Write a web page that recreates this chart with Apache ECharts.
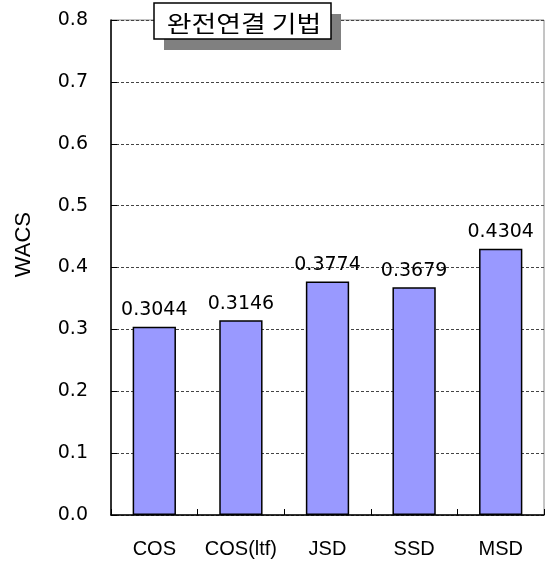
<!DOCTYPE html>
<html>
<head>
<meta charset="utf-8">
<script src="https://cdn.jsdelivr.net/npm/echarts@6/dist/echarts.min.js"></script>
<style>
  html, body { margin: 0; padding: 0; background: #ffffff; }
  #chart { width: 545px; height: 562px; }
</style>
</head>
<body>
<div id="chart"></div>
<script>
// Clustering measures compared under complete linkage
const categories = ['COS', 'COS(ltf)', 'JSD', 'SSD', 'MSD'];
const wacsValues = [0.3044, 0.3146, 0.3774, 0.3679, 0.4304];
const titleText = '완전연결 기법';
const axisName = 'WACS';

const numFont = 'DejaVu Sans';
const chart = echarts.init(document.getElementById('chart'), null, { renderer: 'canvas' });

chart.setOption({
  animation: false,
  backgroundColor: '#ffffff',
  grid: {
    left: 111, right: 1, top: 20, bottom: 47,
    show: true, borderColor: '#8a8a8a', borderWidth: 1, backgroundColor: 'transparent'
  },
  xAxis: {
    type: 'category',
    data: categories,
    axisLine: { lineStyle: { color: '#000', width: 1.5 } },
    axisTick: { show: true, inside: true, length: 6, lineStyle: { color: '#000' } },
    axisLabel: { interval: 0, margin: 24, color: '#000', fontFamily: 'Liberation Sans', fontSize: 20 },
    splitLine: { show: false }
  },
  yAxis: {
    type: 'value',
    min: 0, max: 0.8, interval: 0.1,
    axisLine: { show: true, lineStyle: { color: '#000', width: 1.5 } },
    axisTick: { show: true, inside: true, length: 6, lineStyle: { color: '#000' } },
    axisLabel: {
      margin: 23, color: '#000', fontFamily: numFont, fontSize: 19,
      formatter: v => v.toFixed(1)
    },
    splitLine: { show: true, lineStyle: { color: '#444', width: 1, type: [3, 2] } }
  },
  series: [{
    type: 'bar',
    data: wacsValues,
    barWidth: '50%',
    itemStyle: { color: '#9999ff', borderColor: '#000', borderWidth: 1.5 },
    label: {
      show: true, position: 'top', distance: 7,
      color: '#000', fontFamily: numFont, fontSize: 19,
      formatter: p => p.value.toFixed(4)
    }
  }],
  graphic: [
    {
      type: 'text', left: 13, top: 212, rotation: Math.PI / 2,
      style: { text: axisName, fontFamily: 'Liberation Sans', fontSize: 22, fill: '#000' }
    },
    {
      type: 'rect', shape: { x: 164, y: 14, width: 177, height: 36 },
      style: { fill: '#808080' }, z: 10
    },
    {
      type: 'rect', shape: { x: 154, y: 3, width: 177, height: 36 },
      style: { fill: '#ffffff', stroke: '#000', lineWidth: 1.5 }, z: 11
    },
    {
      type: 'text', x: 244, y: 23, z: 12, scaleX: 1.17,
      style: {
        text: titleText, fontFamily: 'Noto Sans CJK KR', fontSize: 23,
        fill: '#000', align: 'center', verticalAlign: 'middle'
      }
    }
  ]
});
</script>
</body>
</html>
